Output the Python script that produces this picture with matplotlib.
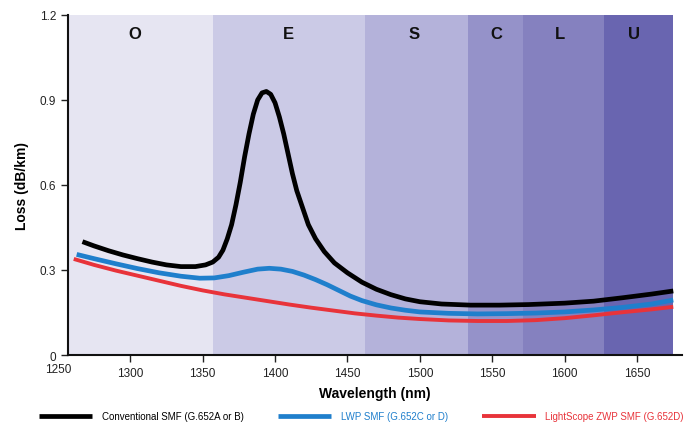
import numpy as np
import matplotlib.pyplot as plt
from matplotlib import transforms

plt.rcParams['font.family'] = ['Liberation Sans', 'DejaVu Sans']

# spectral bands (edges in nm), labels and fill colours
band_edges = [1257, 1357, 1462, 1533, 1571, 1627, 1675]
band_names = ['O', 'E', 'S', 'C', 'L', 'U']
band_label_x = [1303, 1409, 1496, 1553, 1597, 1648]
band_colors = ['#e6e5f2', '#cbcae6', '#b4b2da', '#9592c9', '#8581bf', '#6965b0']

# conventional SMF (water peak)
conv_nm = [1267, 1275, 1285, 1295, 1305, 1315, 1325, 1335, 1345, 1352, 1357, 1361,
           1364, 1367, 1370, 1373, 1376, 1379, 1382, 1385, 1388, 1391, 1394, 1397,
           1400, 1403, 1406, 1409, 1412, 1415, 1419, 1423, 1428, 1434, 1441, 1450,
           1460, 1470, 1480, 1490, 1500, 1515, 1535, 1555, 1575, 1600, 1620, 1640,
           1660, 1675]
conv_loss = [0.400, 0.385, 0.368, 0.353, 0.340, 0.328, 0.318, 0.312, 0.312, 0.318, 0.328, 0.345,
             0.370, 0.410, 0.460, 0.530, 0.610, 0.700, 0.780, 0.850, 0.900, 0.925, 0.930, 0.920,
             0.890, 0.840, 0.780, 0.710, 0.640, 0.580, 0.520, 0.460, 0.410, 0.365, 0.325, 0.290,
             0.257, 0.232, 0.213, 0.198, 0.188, 0.180, 0.176, 0.176, 0.178, 0.183, 0.190, 0.202,
             0.215, 0.226]

# low water peak SMF
lwp_nm = [1263, 1275, 1290, 1305, 1320, 1335, 1348, 1358, 1368, 1378, 1388, 1396,
          1404, 1412, 1420, 1428, 1436, 1444, 1452, 1460, 1470, 1480, 1490, 1500,
          1520, 1540, 1560, 1580, 1600, 1620, 1640, 1660, 1675]
lwp_loss = [0.355, 0.340, 0.322, 0.305, 0.290, 0.278, 0.271, 0.272, 0.280, 0.292, 0.303, 0.306,
            0.303, 0.295, 0.282, 0.266, 0.248, 0.228, 0.208, 0.192, 0.177, 0.166, 0.158, 0.152,
            0.147, 0.145, 0.146, 0.148, 0.152, 0.159, 0.168, 0.180, 0.194]

# LightScope ZWP SMF
zwp_nm = [1261, 1275, 1290, 1305, 1320, 1335, 1350, 1365, 1380, 1395, 1410, 1425,
          1440, 1455, 1470, 1485, 1500, 1520, 1540, 1560, 1580, 1600, 1620, 1640,
          1660, 1675]
zwp_loss = [0.339, 0.318, 0.298, 0.280, 0.262, 0.244, 0.228, 0.214, 0.202, 0.190, 0.178, 0.167,
            0.157, 0.147, 0.139, 0.132, 0.127, 0.122, 0.120, 0.120, 0.123, 0.130, 0.140, 0.151,
            0.161, 0.170]

fig = plt.figure(figsize=(6.88, 4.31), dpi=100)
ax = fig.add_axes([0.0988, 0.174, 0.8924, 0.789])

for i in range(len(band_names)):
    ax.axvspan(band_edges[i], band_edges[i + 1], ymin=0, ymax=1, color=band_colors[i], lw=0, zorder=0)
    ax.text(band_label_x[i], 1.135, band_names[i], ha='center', va='center',
            fontsize=12, fontweight='bold', color='#111111')

ax.plot(conv_nm, conv_loss, color='black', lw=3.4, solid_capstyle='butt',
        solid_joinstyle='round', label='Conventional SMF (G.652A or B)', zorder=4)
ax.plot(lwp_nm, lwp_loss, color='#1f7fcc', lw=3.4, solid_capstyle='butt',
        solid_joinstyle='round', label='LWP SMF (G.652C or D)', zorder=3)
ax.plot(zwp_nm, zwp_loss, color='#e8333a', lw=2.8, solid_capstyle='butt',
        solid_joinstyle='round', label='LightScope ZWP SMF (G.652D)', zorder=2)

ax.set_xlim(1257, 1681)
ax.set_ylim(0, 1.2)
ax.set_xticks([1300, 1350, 1400, 1450, 1500, 1550, 1600, 1650])
ax.set_yticks([0, 0.3, 0.6, 0.9, 1.2])
ax.set_yticklabels(['0', '0.3', '0.6', '0.9', '1.2'])
# the 1250 label sits just left of the axis corner in the original
trans = transforms.blended_transform_factory(ax.transData, ax.transAxes)
ax.text(1250, -0.024, '1250', transform=trans, ha='center', va='top', fontsize=8.5,
        color='#222222', clip_on=False)

ax.tick_params(axis='both', labelsize=8.5, colors='#222222', length=5, width=1)
for s in ['top', 'right']:
    ax.spines[s].set_visible(False)
for s in ['left', 'bottom']:
    ax.spines[s].set_linewidth(1.5)
    ax.spines[s].set_color('#111111')

ax.set_xlabel('Wavelength (nm)', fontsize=10, fontweight='bold', labelpad=5)
ax.set_ylabel('Loss (dB/km)', fontsize=10, fontweight='bold', labelpad=8)

leg = fig.legend(loc='lower center', bbox_to_anchor=(0.525, 0.0), ncol=3, frameon=False,
                 fontsize=7, handlelength=5.5, columnspacing=3.5, handletextpad=1.0)
for txt, line in zip(leg.get_texts(), leg.get_lines()):
    if line.get_color() != 'black':
        txt.set_color(line.get_color())

fig.savefig('out.png', dpi=100)
